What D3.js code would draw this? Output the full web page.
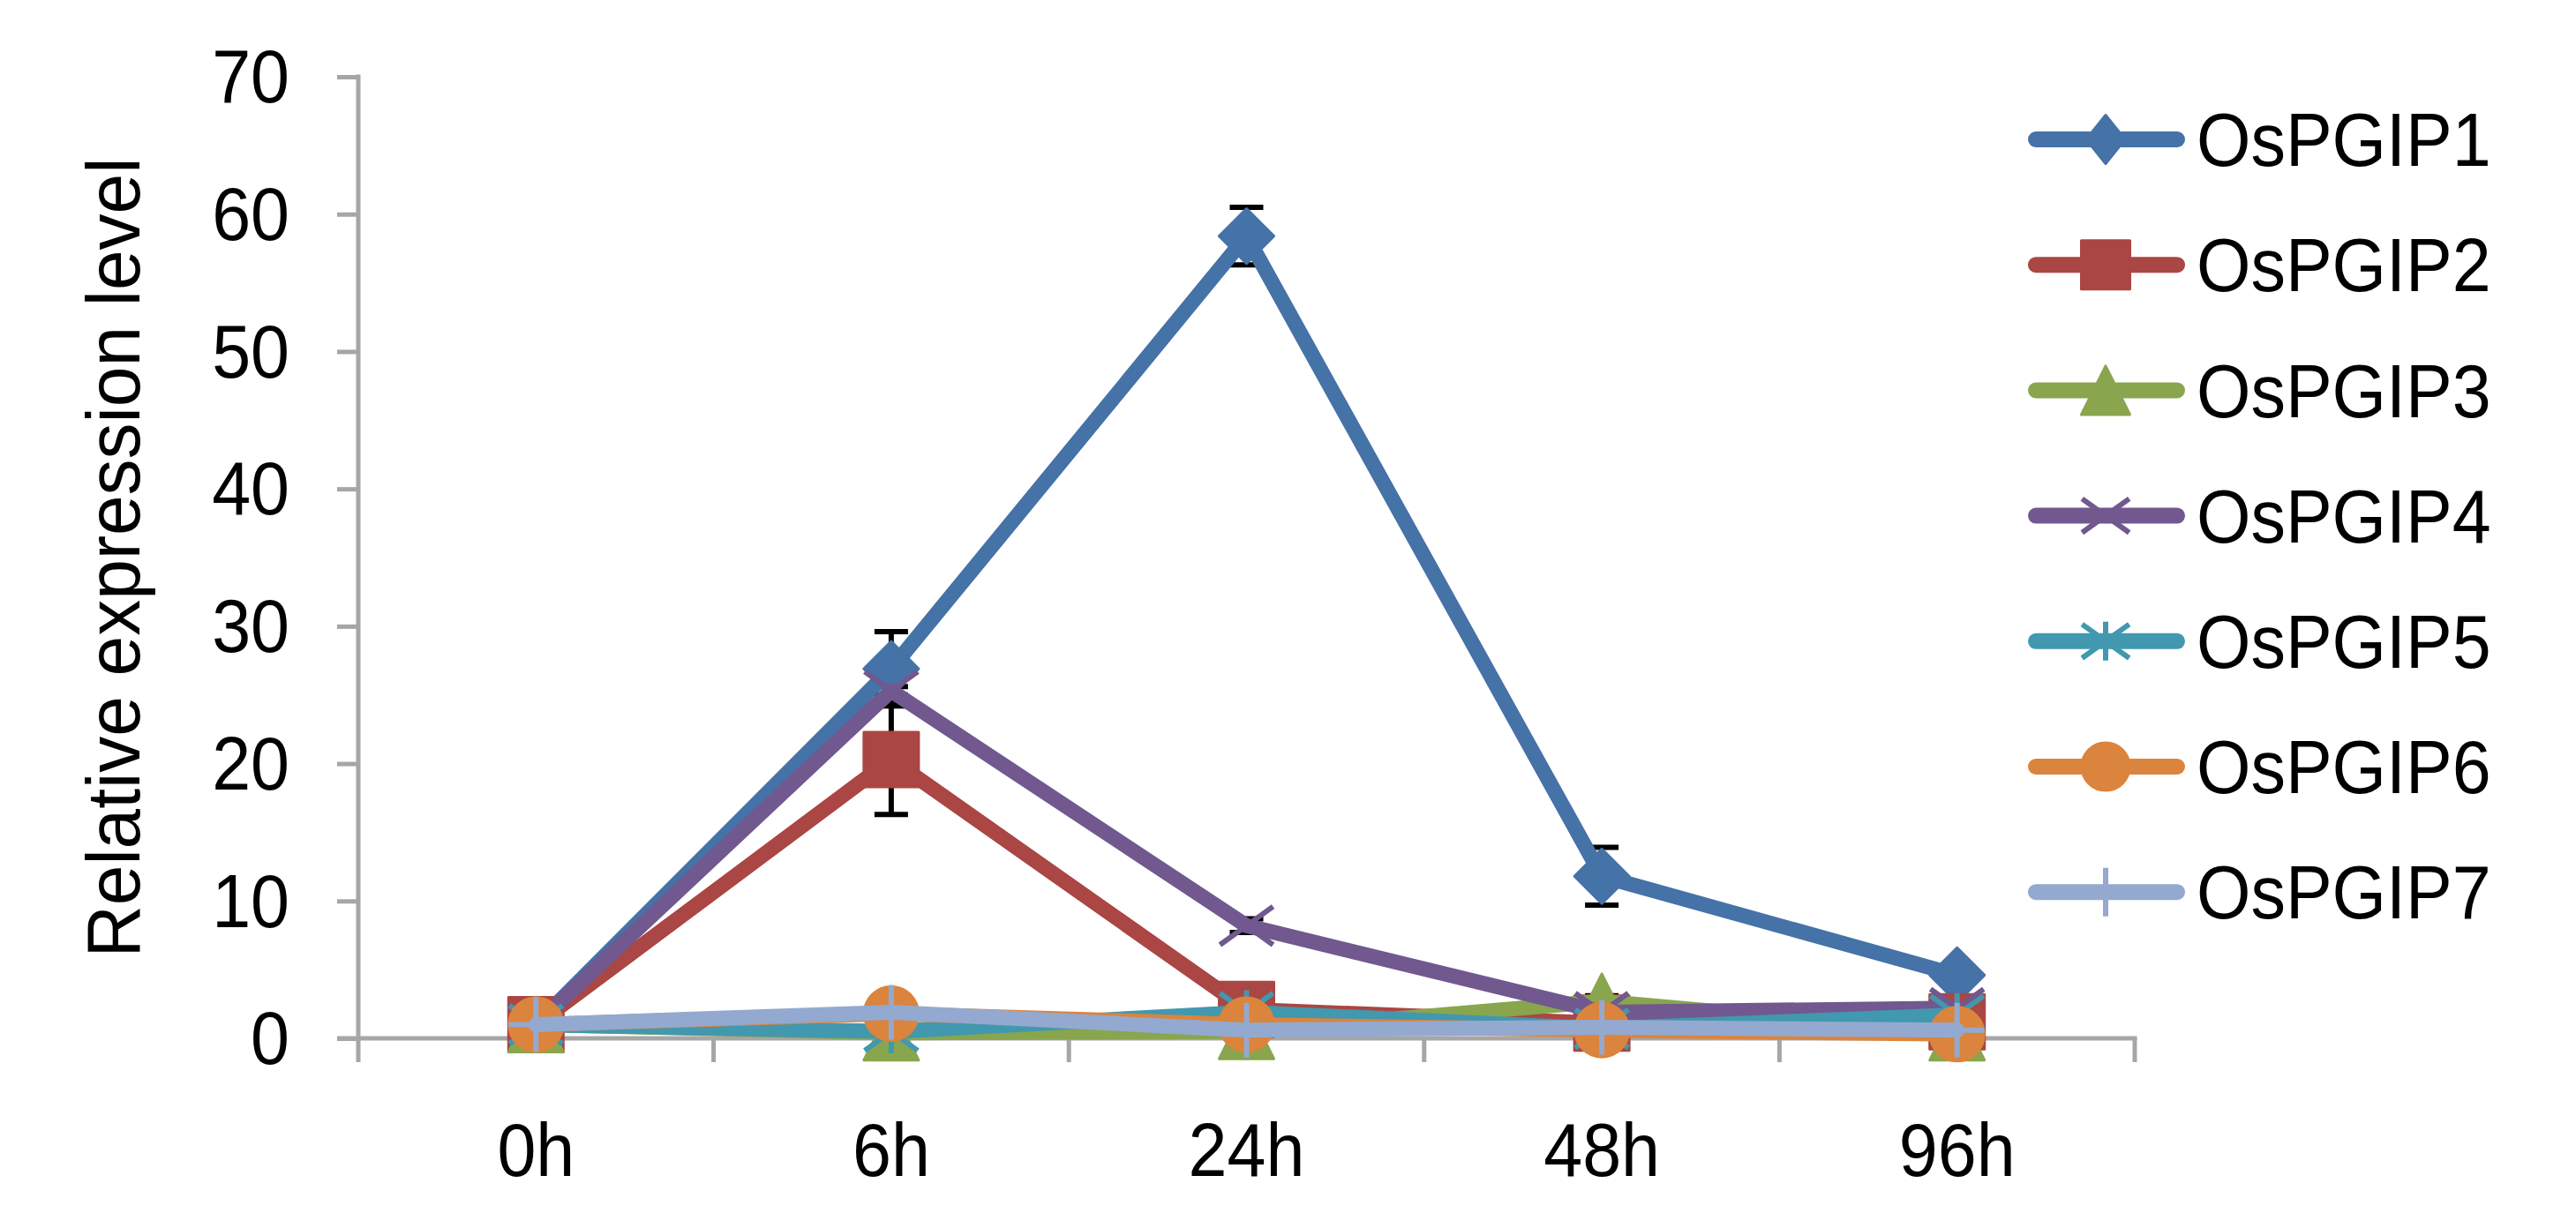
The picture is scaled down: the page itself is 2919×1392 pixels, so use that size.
<!DOCTYPE html>
<html lang="en">
<head>
  <meta charset="UTF-8">
  <title>OsPGIP relative expression</title>
  <script src="https://d3js.org/d3.v7.min.js"></script>
  <style>
    body { margin: 0; background: #fff; }
    text { font-family: "Liberation Sans", Arial, sans-serif; fill: #000; }
  </style>
</head>
<body>
  <div id="chart"></div>
  <script>
    // data
    const timePoints = ["0h", "6h", "24h", "48h", "96h"];
    const seriesNames = ["OsPGIP1", "OsPGIP2", "OsPGIP3", "OsPGIP4", "OsPGIP5", "OsPGIP6", "OsPGIP7"];
    const osPGIP1 = [1, 26.9, 58.4, 11.8, 4.6];
    const osPGIP2 = [1, 20.3, 2.1, 1.1, 1.2];
    const osPGIP3 = [1, 0.4, 0.5, 2.7, 0.4];
    const osPGIP4 = [1, 25.3, 8.2, 1.9, 2.2];
    const osPGIP5 = [1, 0.5, 1.9, 0.7, 1.7];
    const osPGIP6 = [1, 1.8, 1.0, 0.6, 0.3];
    const osPGIP7 = [1, 1.9, 0.6, 0.8, 0.6];
    // error bars (+/-)
    const err1 = [0, 2.7, 2.1, 2.1, 0.5];
    const err2 = [0, 4.0, 0.3, 0.2, 0.3];
    const err3 = [0, 0.1, 0.1, 0.4, 0.1];
    const err4 = [0, 0.3, 0.5, 0.3, 0.3];
    const err5 = [0, 0.1, 0.2, 0.1, 0.2];
    const err6 = [0, 0.2, 0.1, 0.1, 0.1];
    const err7 = [0, 0.2, 0.1, 0.1, 0.1];
    const yTicks = [0, 10, 20, 30, 40, 50, 60, 70];

    const colors = ["#4572A7", "#AA4643", "#89A54E", "#71588F", "#4198AF", "#DB843D", "#93A9CF"];
    const markers = ["diamond", "square", "triangle", "x", "star", "circle", "plus"];

    const series = seriesNames.map((name, i) => ({
      name: name,
      values: [osPGIP1, osPGIP2, osPGIP3, osPGIP4, osPGIP5, osPGIP6, osPGIP7][i],
      errors: [err1, err2, err3, err4, err5, err6, err7][i],
      color: colors[i],
      marker: markers[i]
    }));

    const W = 2919, H = 1392;
    const plotLeft = 406, plotRight = 2419, plotTop = 87, plotBottom = 1177;
    const stretch = "scale(1,1.07)"; // the original text is a little taller than Arial

    const svg = d3.select("#chart").append("svg")
      .attr("width", W).attr("height", H);
    svg.append("rect").attr("width", W).attr("height", H).attr("fill", "#fff");

    const x = d3.scaleBand().domain(timePoints).range([plotLeft, plotRight]).paddingInner(0).paddingOuter(0);
    const y = d3.scaleLinear().domain([0, 70]).range([plotBottom, plotTop]);
    const cx = d => x(d) + x.bandwidth() / 2;

    const axisColor = "#A6A6A6";

    // y axis
    const yAxis = svg.append("g")
      .attr("transform", `translate(${plotLeft},0)`)
      .call(d3.axisLeft(y).tickValues(yTicks).tickSize(24).tickPadding(54).tickSizeOuter(0));
    yAxis.select(".domain").remove();
    yAxis.selectAll(".tick line").attr("stroke", axisColor).attr("stroke-width", 5);
    yAxis.selectAll(".tick text").attr("font-size", 79).attr("dy", "0.34em")
      .attr("transform", stretch)
      .style("font-family", "'Liberation Sans', Arial, sans-serif");
    svg.append("line")
      .attr("x1", plotLeft).attr("x2", plotLeft)
      .attr("y1", plotTop - 2.5).attr("y2", plotBottom + 27)
      .attr("stroke", axisColor).attr("stroke-width", 5);

    // x axis with tick marks between categories
    svg.append("line")
      .attr("x1", plotLeft - 24).attr("x2", plotRight + 2.5)
      .attr("y1", plotBottom).attr("y2", plotBottom)
      .attr("stroke", axisColor).attr("stroke-width", 5);
    const bounds = timePoints.map(d => x(d) + x.bandwidth());
    svg.append("g").selectAll("line")
      .data(bounds)
      .enter().append("line")
      .attr("x1", d => d).attr("x2", d => d)
      .attr("y1", plotBottom).attr("y2", plotBottom + 27)
      .attr("stroke", axisColor).attr("stroke-width", 5);
    svg.append("g").selectAll("g")
      .data(timePoints)
      .enter().append("g")
      .attr("transform", d => `translate(${cx(d)},1333) ${stretch}`)
      .append("text")
      .attr("text-anchor", "middle")
      .attr("font-size", 79)
      .text(d => d);

    // y axis title
    svg.append("text")
      .attr("transform", `translate(158,${(plotTop + plotBottom) / 2}) rotate(-90) scale(1,1.03)`)
      .attr("text-anchor", "middle")
      .attr("font-size", 82)
      .text("Relative expression level");

    // marker drawing
    function drawMarker(g, type, color, size, narrow) {
      const h = size / 2;
      const hw = narrow ? h * narrow : h;
      if (type === "diamond") {
        g.append("path").attr("d", `M0,${-h}L${hw},0L0,${h}L${-hw},0Z`)
          .attr("fill", color).attr("stroke", color).attr("stroke-width", 3).attr("stroke-linejoin", "round");
      } else if (type === "square") {
        g.append("rect").attr("x", -h).attr("y", -h).attr("width", size).attr("height", size)
          .attr("fill", color).attr("stroke", color).attr("stroke-width", 3).attr("stroke-linejoin", "round");
      } else if (type === "triangle") {
        g.append("path").attr("d", `M0,${-h}L${h},${h}L${-h},${h}Z`)
          .attr("fill", color).attr("stroke", color).attr("stroke-width", 3).attr("stroke-linejoin", "round");
      } else if (type === "circle") {
        g.append("circle").attr("r", h)
          .attr("fill", color).attr("stroke", color).attr("stroke-width", 2);
      } else {
        let d = "";
        const k = h * 0.97;
        if (type === "x" || type === "star") d += `M${-k},${-k * 0.72}L${k},${k * 0.72}M${-k},${k * 0.72}L${k},${-k * 0.72}`;
        if (type === "star") d += `M0,${-h * 0.8}L0,${h * 0.8}`;
        if (type === "plus") d += `M0,${-h}L0,${h}M${-h},0L${h},0`;
        g.append("path").attr("d", d)
          .attr("fill", "none").attr("stroke", color).attr("stroke-width", 6);
      }
    }

    // error bars under the series
    const eb = svg.append("g");
    series.forEach(s => {
      s.values.forEach((v, i) => {
        const e = s.errors[i];
        if (!e) return;
        const xc = cx(timePoints[i]);
        eb.append("line").attr("x1", xc).attr("x2", xc)
          .attr("y1", y(v + e)).attr("y2", y(v - e))
          .attr("stroke", "#000").attr("stroke-width", 6);
        [v + e, v - e].forEach(t => {
          eb.append("line").attr("x1", xc - 19).attr("x2", xc + 19)
            .attr("y1", y(t)).attr("y2", y(t))
            .attr("stroke", "#000").attr("stroke-width", 6);
        });
      });
    });

    // series lines and markers
    const line = d3.line().x((d, i) => cx(timePoints[i])).y(d => y(d));
    series.forEach(s => {
      const g = svg.append("g");
      g.append("path")
        .datum(s.values)
        .attr("d", line)
        .attr("fill", "none")
        .attr("stroke", s.color)
        .attr("stroke-width", 17)
        .attr("stroke-linejoin", "round")
        .attr("stroke-linecap", "round");
      s.values.forEach((v, i) => {
        const m = g.append("g").attr("transform", `translate(${cx(timePoints[i])},${y(v)})`);
        drawMarker(m, s.marker, s.color, 62);
      });
    });

    // legend
    const legend = svg.append("g");
    series.forEach((s, i) => {
      const ly = 158 + i * 142.2;
      const g = legend.append("g").attr("transform", `translate(0,${ly})`);
      g.append("line").attr("x1", 2307).attr("x2", 2467).attr("y1", 0).attr("y2", 0)
        .attr("stroke", s.color).attr("stroke-width", 18).attr("stroke-linecap", "round");
      const m = g.append("g").attr("transform", "translate(2386,0)");
      drawMarker(m, s.marker, s.color, 55, s.marker === "diamond" ? 0.8 : null);
      g.append("g").attr("transform", `translate(2489,0) ${stretch}`)
        .append("text").attr("dy", "0.358em")
        .attr("font-size", 79).text(s.name);
    });
  </script>
</body>
</html>
